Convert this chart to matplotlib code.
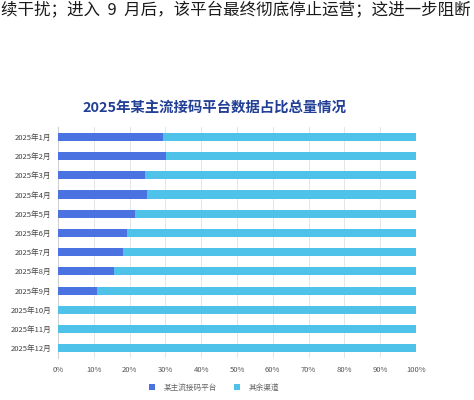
import numpy as np
import matplotlib
matplotlib.use('Agg')
import matplotlib.pyplot as plt

plt.rcParams['font.family'] = ['Noto Sans CJK SC', 'DejaVu Sans']

months = ['2025年1月', '2025年2月', '2025年3月', '2025年4月', '2025年5月', '2025年6月',
          '2025年7月', '2025年8月', '2025年9月', '2025年10月', '2025年11月', '2025年12月']
platform_share = [29.4, 30.3, 24.4, 24.8, 21.5, 19.2, 18.1, 15.5, 11.0, 0, 0, 0]
other_share = [70.6, 69.7, 75.6, 75.2, 78.5, 80.8, 81.9, 84.5, 89.0, 100, 100, 100]
series_names = ['某主流接码平台', '其余渠道']
x_ticks = [0, 10, 20, 30, 40, 50, 60, 70, 80, 90, 100]

dark_blue = '#4a72e0'
light_blue = '#4fc2ea'

fig = plt.figure(figsize=(4.74, 4.0), dpi=100)
ax = fig.add_axes([0.1224, 0.105, 0.7552, 0.577])

y = np.arange(len(months))
b1 = ax.barh(y, platform_share, height=0.42, color=dark_blue, label=series_names[0], zorder=3)
b2 = ax.barh(y, other_share, left=platform_share, height=0.42, color=light_blue,
             label=series_names[1], zorder=3)

ax.set_xlim(0, 100)
ax.set_ylim(len(months) - 0.5, -0.5)
ax.set_yticks(y)
ax.set_yticklabels(months, fontsize=5.5, color='#444444')
ax.set_xticks(x_ticks)
ax.set_xticklabels([f'{t}%' for t in x_ticks], fontsize=5.5, color='#555555')
ax.tick_params(axis='both', length=0)
ax.tick_params(axis='y', pad=5)
ax.tick_params(axis='x', pad=5.5)
ax.xaxis.grid(True, color='#e6e6e6', linewidth=0.7, zorder=0)

for side in ['top', 'right', 'bottom']:
    ax.spines[side].set_visible(False)
ax.spines['left'].set_color('#d0d0d0')
ax.spines['left'].set_linewidth(0.8)

fig.text(0.452, 1 - 108 / 400, '2025年某主流接码平台数据占比总量情况', ha='center', va='center',
         fontsize=10.4, fontweight='bold', color='#223f96')

fig.text(1 / 474, 1 - 10 / 400, '续干扰；进入  9  月后，该平台最终彻底停止运营；这进一步阻断',
         ha='left', va='center', fontsize=11.9, color='#1a1a1a', fontweight='medium')

fig.legend(handles=[b1, b2], labels=series_names, loc='center', ncol=2,
           bbox_to_anchor=(214 / 474, 1 - 388 / 400), frameon=False, fontsize=5.5,
           handlelength=0.8, handleheight=0.8, columnspacing=2.2, handletextpad=1.1,
           labelcolor='#666666')

fig.savefig('out.png', dpi=100, facecolor='white')
